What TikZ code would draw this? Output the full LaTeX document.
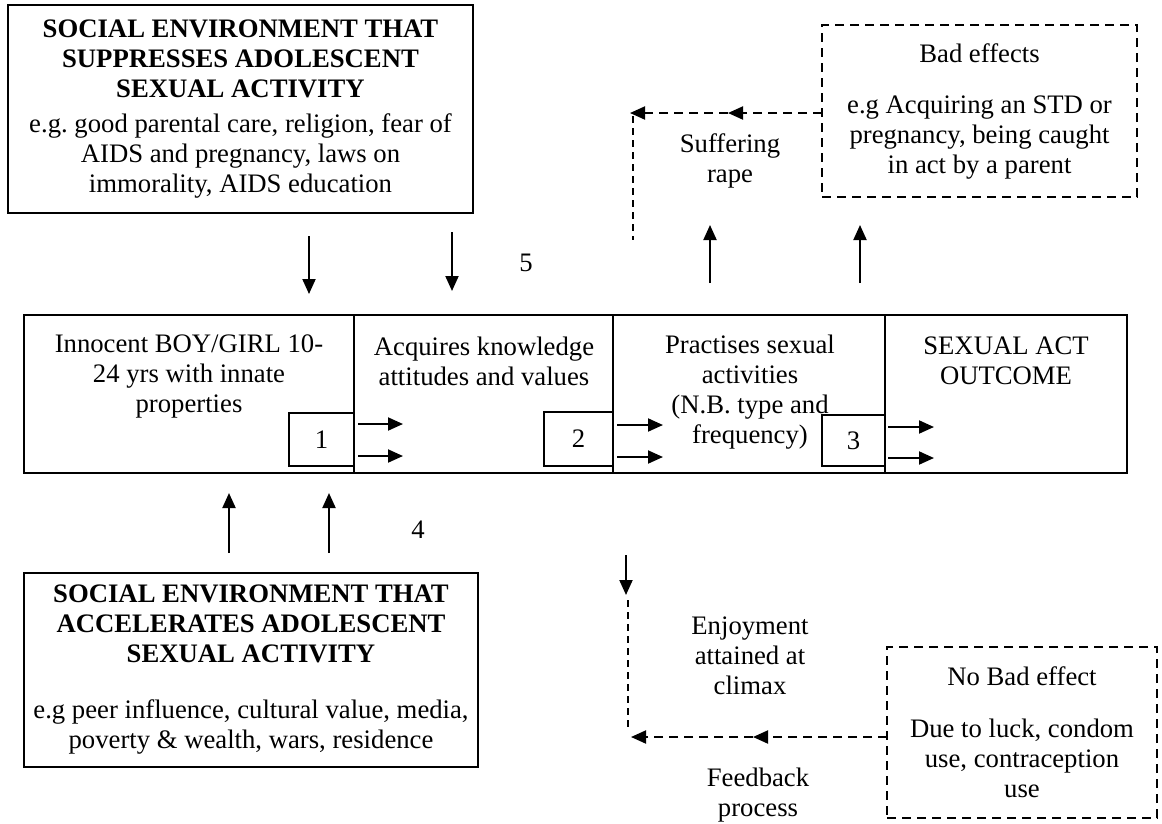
\documentclass[tikz,border=0pt]{standalone}
\usepackage{fontspec}
\setmainfont{Liberation Serif}
\usetikzlibrary{arrows.meta}
\frenchspacing
\begin{document}
\begin{tikzpicture}[x=1pt,y=-1pt,
  every node/.style={font=\fontsize{26.7}{30}\selectfont, inner sep=0pt, outer sep=0pt, align=center},
  solidbox/.style={draw, line width=2.2pt, rectangle},
  dashbox/.style={draw, line width=2pt, rectangle, dash pattern=on 9pt off 6pt},
  arr/.style={line width=2pt, -{Triangle[length=15pt,width=13pt]}},
  darr/.style={line width=2pt, dash pattern=on 9pt off 6pt, -{Triangle[length=15pt,width=13pt]}},
  dline/.style={line width=1.3pt, dash pattern=on 7pt off 5pt},
  numbox/.style={draw, line width=2.2pt, rectangle, anchor=north west}
]
\useasboundingbox (0,0) rectangle (1162,823);

% top-left box
\node[solidbox, minimum width=465pt, minimum height=208pt] (sup) at (240.5,109)
 {\bfseries SOCIAL ENVIRONMENT THAT\\ \bfseries SUPPRESSES ADOLESCENT\\ \bfseries SEXUAL ACTIVITY\\[5pt]
  e.g. good parental care, religion, fear of\\ AIDS and pregnancy, laws on\\ immorality, AIDS education};

% bottom-left box
\node[solidbox, minimum width=454pt, minimum height=194pt] (acc) at (251,670)
 {\bfseries SOCIAL ENVIRONMENT THAT\\ \bfseries ACCELERATES ADOLESCENT\\ \bfseries SEXUAL ACTIVITY\\[26pt]
  e.g peer influence, cultural value, media,\\ poverty \& wealth, wars, residence};

% top-right dashed box
\node[dashbox, minimum width=315pt, minimum height=172pt] (bad) at (979.5,111)
 {Bad effects\\[21pt] e.g Acquiring an STD or\\ pregnancy, being caught\\ in act by a parent};

% bottom-right dashed box
\node[dashbox, minimum width=270pt, minimum height=171pt] (nobad) at (1022,732.5)
 {No Bad effect\\[22pt] Due to luck, condom\\ use, contraception\\ use};

% main row boxes
\node[solidbox, anchor=north west, minimum width=330pt, minimum height=158pt] (b1) at (24,315) {};
\node[solidbox, anchor=north west, minimum width=259pt, minimum height=158pt] (b2) at (354,315) {};
\node[solidbox, anchor=north west, minimum width=272pt, minimum height=158pt] (b3) at (613,315) {};
\node[solidbox, anchor=north west, minimum width=242pt, minimum height=158pt] (b4) at (885,315) {};

\node (t1) at (189,376) {Innocent BOY/GIRL 10-\\ 24 yrs with innate\\ properties};
\node (t2) at (484,361) {Acquires knowledge\\ attitudes and values};
\node (t3) at (750,392) {Practises sexual\\ activities\\ (N.B. type and\\ frequency)};
\node (t4) at (1006,361) {SEXUAL ACT\\ OUTCOME};

% numbered boxes
\node[numbox, minimum width=65pt, minimum height=53pt] (n1) at (289,413) {1};
\node[numbox, minimum width=69pt, minimum height=54pt] (n2) at (544,412) {2};
\node[numbox, minimum width=63pt, minimum height=51pt] (n3) at (822,415) {3};

% horizontal arrows between main boxes
\coordinate (h1a) at (358,424); \coordinate (h1b) at (403,424);
\coordinate (h1c) at (358,456); \coordinate (h1d) at (403,456);
\coordinate (h2a) at (617,425); \coordinate (h2b) at (663,425);
\coordinate (h2c) at (617,457); \coordinate (h2d) at (663,457);
\coordinate (h3a) at (888,427); \coordinate (h3b) at (934,427);
\coordinate (h3c) at (888,458); \coordinate (h3d) at (934,458);
\draw[arr] (h1a) -- (h1b);
\draw[arr] (h1c) -- (h1d);
\draw[arr] (h2a) -- (h2b);
\draw[arr] (h2c) -- (h2d);
\draw[arr] (h3a) -- (h3b);
\draw[arr] (h3c) -- (h3d);

% down arrows from suppressing environment
\coordinate (d1a) at (309,236); \coordinate (d1b) at (309,294);
\coordinate (d2a) at (452,232); \coordinate (d2b) at (452,291);
\draw[arr] (d1a) -- (d1b);
\draw[arr] (d2a) -- (d2b);
\node (five) at (526,263) {5};

% up arrows from accelerating environment
\coordinate (u1a) at (229,553); \coordinate (u1b) at (229,493);
\coordinate (u2a) at (329,553); \coordinate (u2b) at (329,493);
\draw[arr] (u1a) -- (u1b);
\draw[arr] (u2a) -- (u2b);
\node (four) at (418,530) {4};

% up arrows to outcomes
\coordinate (o1a) at (710,283); \coordinate (o1b) at (710,225);
\coordinate (o2a) at (860,283); \coordinate (o2b) at (860,225);
\draw[arr] (o1a) -- (o1b);
\draw[arr] (o2a) -- (o2b);

\node (rape) at (730,161) {Suffering\\ rape};

% top feedback (dashed)
\coordinate (tm) at (728,113);
\coordinate (te) at (630,113);
\coordinate (tv1) at (633,116);
\coordinate (tv2) at (633,240);
\draw[darr] (bad.west |- tm) -- (tm);
\draw[darr] (tm) -- (te);
\draw[dline] (tv1) -- (tv2);

% bottom feedback
\coordinate (ba) at (626,555); \coordinate (bb) at (626,595);
\draw[arr] (ba) -- (bb);
\coordinate (bv1) at (628,600);
\coordinate (bv2) at (628,727);
\draw[dline] (bv1) -- (bv2);
\coordinate (bm) at (753,737);
\coordinate (be) at (631,737);
\draw[darr] (nobad.west |- bm) -- (bm);
\draw[darr] (bm) -- (be);

\node (enjoy) at (750,656) {Enjoyment\\ attained at\\ climax};
\node (feed) at (758,795) {Feedback\\ process};
\end{tikzpicture}
\end{document}
